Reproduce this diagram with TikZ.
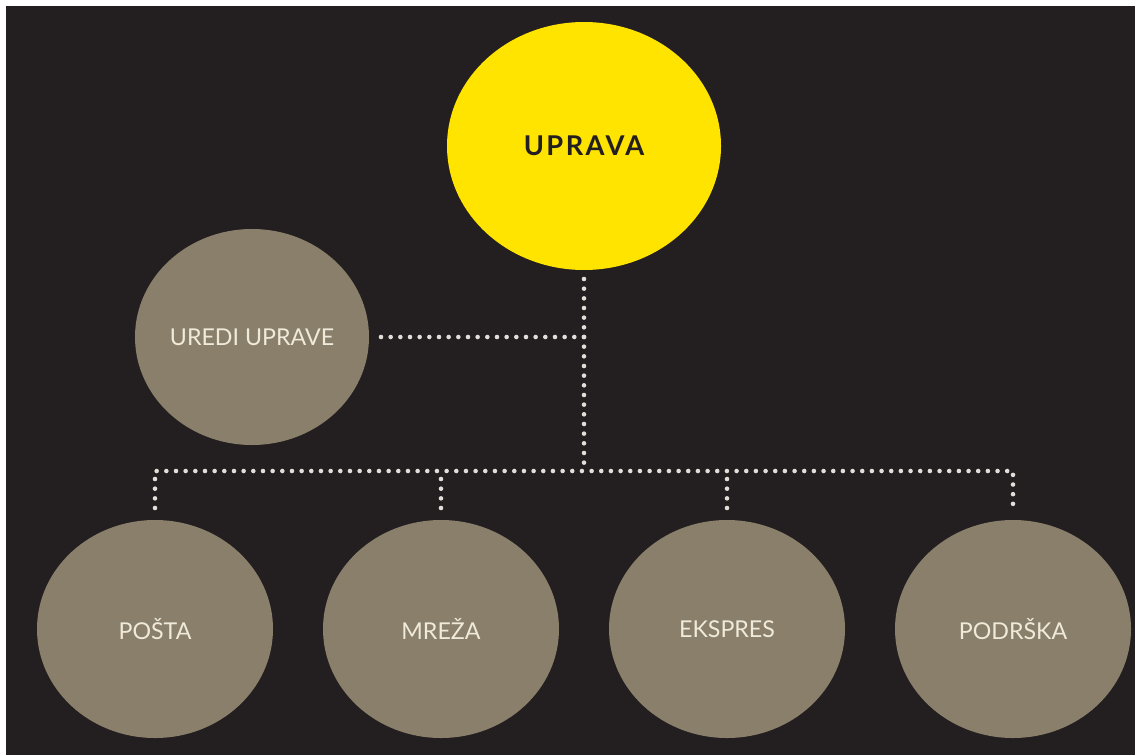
\documentclass[tikz,border=0pt]{standalone}
\usepackage{fontspec}
\setsansfont{Lato}
\usetikzlibrary{shapes.geometric, positioning}
\definecolor{bgdark}{HTML}{231F20}
\definecolor{khaki}{HTML}{8A7F6B}
\definecolor{gold}{HTML}{FFE400}
\definecolor{cream}{HTML}{F0EADA}
\definecolor{dotgrey}{HTML}{E2DFDA}
\tikzstyle{boss} = [ellipse, minimum width=5.48cm, minimum height=4.96cm, inner sep=0pt, outer sep=0.18cm, fill=gold, text=bgdark, font=\sffamily\bfseries\fontsize{15.5}{17}\selectfont\addfontfeature{LetterSpace=9}]
\tikzstyle{unit} = [ellipse, minimum width=4.72cm, minimum height=4.36cm, inner sep=0pt, outer sep=0.24cm, fill=khaki, text=cream, font=\sffamily\fontsize{13.2}{15}\selectfont]
\tikzstyle{link} = [dotgrey, line width=2.6pt, line cap=round, dash pattern=on 0pt off 5.5pt]

\begin{document}
\begin{tikzpicture}[node distance=5.72cm]
\useasboundingbox (0,0) rectangle (22.7,-15.1);
\fill [bgdark] (0.12,-0.12) rectangle (22.7,-15.1);

\node (uprava) [boss] at (11.68,-2.92) {UPRAVA};
\node (uredi) [unit, minimum width=4.68cm, minimum height=4.32cm, left of=uprava, xshift=-0.92cm, yshift=-3.82cm] {UREDI UPRAVE};
\node (posta) [unit, below of=uprava, xshift=-8.58cm, yshift=-3.94cm] {POŠTA};
\node (mreza) [unit, right of=posta] {MREŽA};
\node (ekspres) [unit, right of=mreza] {EKSPRES};
\node (podrska) [unit, right of=ekspres] {PODRŠKA};
\coordinate (hub) at ([yshift=-6.5cm]uprava.center);

\draw [link] (uprava.south) -- (hub);
\draw [link] (uredi.east) -- (uredi.east -| hub);
\draw [link] (posta.north) |- (hub) -| (podrska.north);
\draw [link] (mreza.north) -- (mreza.north |- hub);
\draw [link] (ekspres.north) -- (ekspres.north |- hub);
\end{tikzpicture}
\end{document}
